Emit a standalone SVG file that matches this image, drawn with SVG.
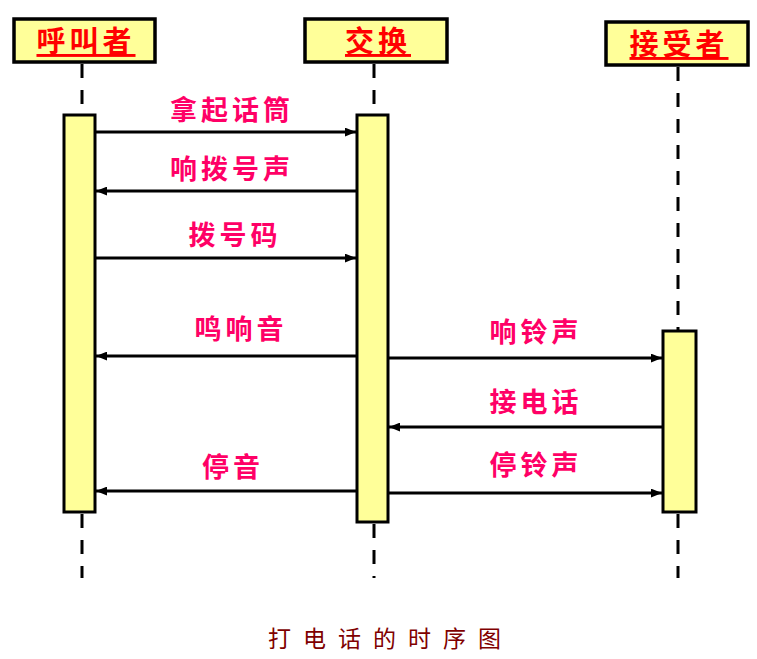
<svg xmlns="http://www.w3.org/2000/svg" width="757" height="659" viewBox="0 0 757 659">
<defs>
<marker id="ah" viewBox="0 0 10 8" refX="10" refY="4" markerWidth="11" markerHeight="9" markerUnits="userSpaceOnUse" orient="auto">
<path d="M0,0 L10,4 L0,8 Z" fill="#000"/>
</marker>
<style>
.box{fill:#FFFF99;stroke:#000;stroke-width:3.5}
.act{fill:#FFFF99;stroke:#000;stroke-width:3}
.life{stroke:#000;stroke-width:3;stroke-dasharray:14 12;fill:none}
.hdr{font-family:"Noto Sans CJK SC","Liberation Serif",serif;font-weight:bold;font-size:29px;fill:#FF0000;text-anchor:middle;text-decoration:underline;letter-spacing:4px}
.msg{stroke:#000;stroke-width:3;fill:none;marker-end:url(#ah)}
.lbl{font-family:"Noto Sans CJK SC","Liberation Sans",sans-serif;font-weight:bold;font-size:27px;fill:#FF0066;text-anchor:middle;letter-spacing:4px}
.cap{font-family:"Noto Sans CJK SC","Liberation Sans",sans-serif;font-size:23px;fill:#800000;letter-spacing:12px}
</style>
</defs>
<rect width="757" height="659" fill="#fff"/>

<g id="lifelines">
<line class="life" x1="82" y1="64" x2="82" y2="115"/>
<line class="life" x1="82" y1="514" x2="82" y2="578"/>
<line class="life" x1="374" y1="64" x2="374" y2="115"/>
<line class="life" x1="374" y1="524" x2="374" y2="578"/>
<line class="life" x1="678" y1="67" x2="678" y2="331"/>
<line class="life" x1="678" y1="514" x2="678" y2="578"/>
</g>

<g id="caller">
<rect class="box" x="14" y="19" width="141" height="43"/>
<text class="hdr" x="86" y="52">呼叫者</text>
<rect class="act" x="64" y="115" width="31" height="397"/>
</g>
<g id="switch">
<rect class="box" x="305" y="19" width="142" height="43"/>
<text class="hdr" x="378" y="52">交换</text>
<rect class="act" x="357" y="115" width="31" height="407"/>
</g>
<g id="callee">
<rect class="box" x="606" y="22" width="142" height="43"/>
<text class="hdr" x="679" y="55">接受者</text>
<rect class="act" x="663" y="331" width="33" height="181"/>
</g>

<g id="connectors">
<line class="msg" x1="95" y1="132" x2="356" y2="132"/>
<line class="msg" x1="356" y1="191" x2="96" y2="191"/>
<line class="msg" x1="95" y1="258" x2="356" y2="258"/>
<line class="msg" x1="356" y1="356" x2="96" y2="356"/>
<line class="msg" x1="388" y1="358" x2="662" y2="358"/>
<line class="msg" x1="662" y1="427" x2="389" y2="427"/>
<line class="msg" x1="356" y1="491" x2="96" y2="491"/>
<line class="msg" x1="388" y1="493" x2="662" y2="493"/>
</g>

<g id="labels">
<text class="lbl" x="232" y="120">拿起话筒</text>
<text class="lbl" x="232" y="179">响拨号声</text>
<text class="lbl" x="235" y="245">拨号码</text>
<text class="lbl" x="241" y="339">鸣响音</text>
<text class="lbl" x="233" y="477">停音</text>
<text class="lbl" x="536" y="342">响铃声</text>
<text class="lbl" x="536" y="412">接电话</text>
<text class="lbl" x="536" y="475">停铃声</text>
</g>

<text class="cap" x="268" y="647">打电话的时序图</text>
</svg>
